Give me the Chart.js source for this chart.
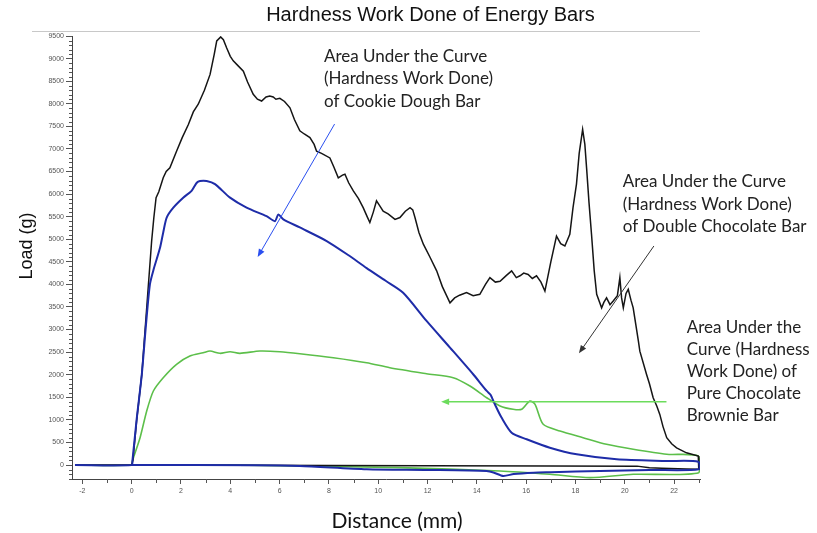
<!DOCTYPE html>
<html><head><meta charset="utf-8">
<script src="https://cdn.jsdelivr.net/npm/chart.js@4.4.1/dist/chart.umd.min.js"></script>
<style>html,body{margin:0;padding:0;background:#fff;}</style>
</head><body>
<canvas id="c" width="817" height="533" style="display:block"></canvas>
<script>
// ---- tick labels ----
const xTickValues = [-2,0,2,4,6,8,10,12,14,16,18,20,22];
const yTickValues = [0,500,1000,1500,2000,2500,3000,3500,4000,4500,5000,5500,6000,6500,7000,7500,8000,8500,9000,9500];

// ---- Double Chocolate Bar (black) ----
const chocX = [-2.3,0,0.05,0.2,0.41,0.61,0.81,0.9,0.99,1.1,1.28,1.4,1.55,1.82,2.05,2.3,2.5,2.7,2.95,3.18,3.35,3.45,3.61,3.72,3.85,4.0,4.12,4.3,4.53,4.7,4.93,5.1,5.27,5.45,5.6,5.74,5.85,6.01,6.2,6.42,6.6,6.82,7.0,7.23,7.4,7.5,7.7,8.04,8.2,8.38,8.55,8.65,8.8,8.99,9.2,9.39,9.55,9.66,9.8,9.93,10.05,10.2,10.4,10.68,10.88,11.1,11.29,11.4,11.49,11.65,11.83,12.1,12.37,12.6,12.91,13.1,13.3,13.58,13.85,14.12,14.35,14.53,14.75,14.94,15.2,15.41,15.6,15.75,15.9,16.08,16.25,16.42,16.6,16.76,17.0,17.23,17.4,17.57,17.77,17.9,18.04,18.15,18.29,18.38,18.45,18.55,18.65,18.76,18.86,19.06,19.15,19.26,19.4,19.53,19.7,19.8,19.87,19.94,20.05,20.14,20.25,20.34,20.45,20.55,20.61,20.88,21.0,21.15,21.3,21.42,21.55,21.7,21.9,22.1,22.5,22.98,
  23.0,22.5,21.5,21.0,20.5,17,12,8,4,0];
const chocY = [0,0,100,975,2000,3480,4960,5480,5920,6050,6360,6500,6580,6950,7250,7540,7820,7990,8300,8650,9100,9390,9480,9420,9240,9050,8950,8850,8720,8480,8210,8100,8060,8150,8170,8150,8100,8120,8050,7910,7650,7400,7330,7250,7100,6950,6900,6800,6600,6360,6420,6440,6250,6070,5900,5700,5500,5370,5600,5850,5750,5620,5560,5440,5480,5620,5700,5650,5480,5150,4890,4600,4300,3950,3590,3700,3760,3820,3750,3780,4000,4150,4050,4070,4200,4300,4150,4190,4250,4220,4130,4190,4050,3850,4500,5070,4900,4850,5110,5700,6220,6900,7430,7100,6580,5800,5110,4300,3780,3480,3600,3700,3550,3630,3750,4150,3700,3480,3800,3890,3650,3480,3100,2750,2520,2010,1800,1490,1300,1120,850,605,470,380,270,200,
  -95,-90,-70,-59,-25,-20,-15,-12,-8,0];

// ---- Cookie Dough Bar (blue) ----
const cookieX = [-2.3,0,0.03,0.2,0.41,0.58,0.74,0.9,1.15,1.28,1.42,1.69,2.09,2.43,2.64,2.77,3.04,3.38,3.99,4.66,5.47,5.81,5.95,6.15,6.82,7.91,8.78,9.53,10.3,11.01,11.96,12.91,13.85,14.4,14.55,14.73,15.0,15.41,16.02,16.96,18.05,19.67,21.7,22.98,
  23.0,21,19,17,16.3,15.5,15.07,14.7,14.4,12,9.53,6.82,5,0];
const cookieY = [0,0,90,1000,2000,3100,4000,4350,4810,5150,5480,5700,5920,6070,6250,6290,6290,6220,5920,5700,5510,5400,5550,5440,5260,4960,4650,4360,4080,3815,3190,2600,2010,1640,1560,1344,1050,715,570,383,237,126,89,73,
  -95,-110,-133,-160,-170,-200,-243,-170,-133,-110,-95,-22,-5,0];

// ---- Pure Chocolate Brownie Bar (green) ----
const brownieX = [-2.3,0,0.03,0.34,0.61,0.88,1.28,1.82,2.36,2.9,3.18,3.58,3.99,4.39,5.2,6.01,6.82,8.18,9.53,10.47,11.96,13.04,13.72,14.4,14.94,15.47,15.82,16.15,16.36,16.69,17.37,18.31,19.26,20.34,21.7,22.98,
  23.0,20.34,18.59,16.96,14.94,10.88,6.82,4,0];
const brownieY = [0,0,89,605,1196,1639,1933,2230,2414,2487,2524,2473,2509,2473,2524,2509,2465,2376,2265,2155,2022,1933,1749,1490,1307,1233,1233,1417,1344,901,753,605,458,347,237,199,
  -170,-206,-280,-206,-133,-59,-22,0,0];

const toPts = (xs, ys) => xs.map((x, i) => ({x: x, y: ys[i]}));

// ---- annotations (text + arrow in data space) ----
const notes = [
  {lines:['Area Under the Curve','(Hardness Work Done)','of Cookie Dough Bar'], x:324, y:61.7, lh:22.5,
   arrow:{from:[8.23,7550], to:[5.11,4605], color:'#2a4ff0', w:1}},
  {lines:['Area Under the Curve','(Hardness Work Done)','of Double Chocolate Bar'], x:622.7, y:187.3, lh:22.5,
   arrow:{from:[21.18,4850], to:[18.14,2473], color:'#333333', w:1}},
  {lines:['Area Under the','Curve (Hardness','Work Done) of','Pure Chocolate','Brownie Bar'], x:686.7, y:333.3, lh:21.9,
   arrow:{from:[21.69,1400], to:[12.55,1400], color:'#6cdc5c', w:1.5}}
];

const decor = {
  id:'decor',
  beforeDraw(chart){
    const c = chart.ctx;
    c.save(); c.fillStyle='#fff'; c.fillRect(0,0,chart.width,chart.height); c.restore();
  },
  afterDraw(chart){
    const c = chart.ctx, xs = chart.scales.x, ys = chart.scales.y;
    const L = chart.chartArea.left, B = chart.chartArea.bottom;
    c.save();
    // minor ticks
    c.strokeStyle='#555'; c.lineWidth=1;
    c.beginPath();
    for (let v=-300; v<=9500; v+=100){
      if (v%500===0) continue;
      const py = Math.round(ys.getPixelForValue(v))+0.5;
      c.moveTo(L-3,py); c.lineTo(L,py);
    }
    for (let v=-1; v<=23; v+=2){
      const px = Math.round(xs.getPixelForValue(v))+0.5;
      c.moveTo(px,B); c.lineTo(px,B+4);
    }
    c.stroke();
    // title underline
    c.strokeStyle='#c8c8c8'; c.beginPath(); c.moveTo(32,31.5); c.lineTo(700,31.5); c.stroke();
    // title
    c.fillStyle='#111'; c.font='20px "Liberation Sans", Arial, sans-serif';
    c.textAlign='center'; c.textBaseline='alphabetic';
    c.fillText('Hardness Work Done of Energy Bars', 430.5, 21);
    // axis titles
    c.font='21px Lato, sans-serif';
    c.fillText('Distance (mm)', 397, 528);
    c.save(); c.translate(32, 246); c.rotate(-Math.PI/2);
    c.font='18px "Liberation Sans", Arial, sans-serif';
    c.fillText('Load (g)', 0, 0); c.restore();
    // annotations
    c.textAlign='left'; c.font='17px Lato, sans-serif'; c.fillStyle='#222';
    notes.forEach(n=>{
      n.lines.forEach((t,i)=> c.fillText(t, n.x, n.y + i*n.lh));
      const a = n.arrow;
      const x1 = xs.getPixelForValue(a.from[0]), y1 = ys.getPixelForValue(a.from[1]);
      const x2 = xs.getPixelForValue(a.to[0]), y2 = ys.getPixelForValue(a.to[1]);
      const ang = Math.atan2(y2-y1, x2-x1), hl = 8, hw = 3.2;
      c.strokeStyle=a.color; c.fillStyle=a.color; c.lineWidth=a.w;
      c.beginPath(); c.moveTo(x1,y1);
      c.lineTo(x2-Math.cos(ang)*hl*0.8, y2-Math.sin(ang)*hl*0.8); c.stroke();
      c.beginPath(); c.moveTo(x2,y2);
      c.lineTo(x2-Math.cos(ang)*hl - Math.sin(ang)*hw, y2-Math.sin(ang)*hl + Math.cos(ang)*hw);
      c.lineTo(x2-Math.cos(ang)*hl + Math.sin(ang)*hw, y2-Math.sin(ang)*hl - Math.cos(ang)*hw);
      c.closePath(); c.fill();
      c.fillStyle='#222';
    });
    c.restore();
  }
};

const plain = v => String(v);

new Chart(document.getElementById('c'), {
  type:'scatter',
  data:{datasets:[
    {label:'Cookie Dough Bar', data:toPts(cookieX,cookieY), borderColor:'#1e2ca8', borderWidth:2, tension:0.25},
    {label:'Double Chocolate Bar', data:toPts(chocX,chocY), borderColor:'#151515', borderWidth:1.5, tension:0},
    {label:'Pure Chocolate Brownie Bar', data:toPts(brownieX,brownieY), borderColor:'#5cbf4a', borderWidth:1.6, tension:0.25}
  ].map(d=>Object.assign(d,{showLine:true, pointRadius:0, pointHoverRadius:0, fill:false}))},
  options:{
    responsive:false, animation:false, events:[],
    layout:{padding:{top:36, right:117, bottom:0, left:0}},
    plugins:{legend:{display:false}, tooltip:{enabled:false}, title:{display:false}},
    scales:{
      x:{type:'linear', min:-2.42, max:23.05,
        afterBuildTicks:s=>{ s.ticks = xTickValues.map(v=>({value:v})); },
        afterFit:s=>{ s.height = 54; },
        ticks:{callback:plain, font:{family:'"Liberation Sans", Arial, sans-serif', size:7}, color:'#555', padding:3, maxRotation:0, autoSkip:false},
        grid:{drawOnChartArea:false, drawTicks:true, tickLength:5, color:'#555'},
        border:{display:true, color:'#444', width:1}},
      y:{type:'linear', min:-310, max:9500,
        afterBuildTicks:s=>{ s.ticks = yTickValues.map(v=>({value:v})); },
        afterFit:s=>{ s.width = 72; },
        ticks:{callback:plain, font:{family:'"Liberation Sans", Arial, sans-serif', size:7}, color:'#555', padding:2, autoSkip:false},
        grid:{drawOnChartArea:false, drawTicks:true, tickLength:6, color:'#555'},
        border:{display:true, color:'#444', width:1}}
    }
  },
  plugins:[decor]
});
</script>
</body></html>
